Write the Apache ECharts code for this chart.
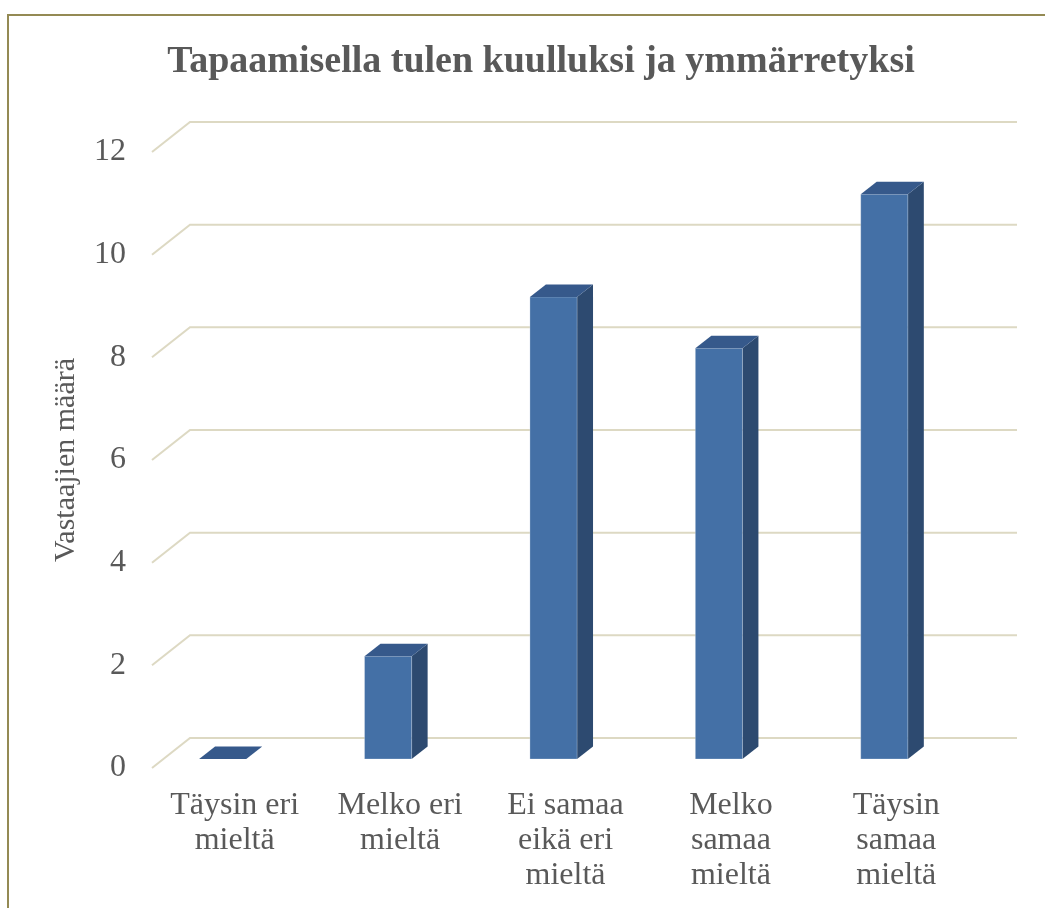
<!DOCTYPE html>
<html>
<head>
<meta charset="utf-8">
<script src="https://cdn.jsdelivr.net/npm/echarts@6/dist/echarts.min.js"></script>
<style>
  html, body { margin: 0; padding: 0; background: #fff; }
  #chart { width: 1045px; height: 908px; }
</style>
</head>
<body>
<div id="chart"></div>
<script>
// vastausvaihtoehdot ja vastaajien määrät
const categories = ['Täysin eri\nmieltä', 'Melko eri\nmieltä', 'Ei samaa\neikä eri\nmieltä', 'Melko\nsamaa\nmieltä', 'Täysin\nsamaa\nmieltä']
const counts = [0, 2, 9, 8, 11]
const yTicks = [0, 2, 4, 6, 8, 10, 12]

const titleText = 'Tapaamisella tulen kuulluksi ja ymmärretyksi'
const yName = 'Vastaajien määrä'

// "3D" syvyys pikseleinä
const DX = 38, DY = -30
const T0 = 0.3, T1 = 0.72
const FONT = 'Liberation Serif'
const TEXT_COLOR = '#595959'

const chart = echarts.init(document.getElementById('chart'))

function renderGridLine(params, api) {
  const cs = params.coordSys
  const p = api.coord([0, api.value(1)])
  const left = cs.x, right = cs.x + cs.width
  return {
    type: 'polyline',
    shape: { points: [[left, p[1]], [left + DX, p[1] + DY], [right + DX, p[1] + DY]] },
    style: { stroke: '#ddd9c3', lineWidth: 2, fill: null }
  }
}

function renderBar(params, api) {
  const i = api.value(0)
  const top = api.coord([i, api.value(1)])
  const base = api.coord([i, 0])
  const bw = api.size([1, 0])[0] * 0.285
  const cx = base[0] - 12
  const l = cx - bw / 2, r = cx + bw / 2
  const by = base[1] + T0 * DY
  const ty = top[1] + T0 * DY
  const sx = (T1 - T0) * DX, sy = (T1 - T0) * DY
  return {
    type: 'group',
    children: [
      {
        type: 'polygon',
        shape: { points: [[r, ty], [r + sx, ty + sy], [r + sx, by + sy], [r, by]] },
        style: { fill: '#2d4a70' }
      },
      {
        type: 'polygon',
        shape: { points: [[l, by], [l, ty], [r, ty], [r, by]] },
        style: { fill: '#4470a6', stroke: 'rgba(255,255,255,0.25)', lineWidth: 1 }
      },
      {
        type: 'polygon',
        shape: { points: [[l, ty], [l + sx, ty + sy], [r + sx, ty + sy], [r, ty]] },
        style: { fill: '#36598b' }
      }
    ]
  }
}

const option = {
  backgroundColor: '#fff',
  animation: false,
  title: {
    text: titleText,
    left: 536,
    textAlign: 'center',
    top: 38,
    textStyle: { fontFamily: FONT, fontSize: 38, fontWeight: 'bold', color: TEXT_COLOR }
  },
  graphic: [
    {
      type: 'polyline',
      shape: { points: [[8, 908], [8, 15], [1045, 15]] },
      style: { stroke: '#948a54', lineWidth: 2, fill: null }
    }
  ],
  grid: { left: 152, right: 66, top: 152, bottom: 140 },
  xAxis: {
    type: 'category',
    data: categories,
    axisLine: { show: false },
    axisTick: { show: false },
    axisLabel: {
      fontFamily: FONT, fontSize: 32, lineHeight: 35, color: TEXT_COLOR,
      margin: 20, interval: 0
    }
  },
  yAxis: {
    type: 'value',
    min: 0, max: 12, interval: 2,
    name: yName,
    nameLocation: 'middle',
    nameGap: 71,
    nameTextStyle: { fontFamily: FONT, fontSize: 30, color: TEXT_COLOR },
    axisLine: { show: false },
    axisTick: { show: false },
    splitLine: { show: false },
    axisLabel: { fontFamily: FONT, fontSize: 32, color: TEXT_COLOR, margin: 26 }
  },
  series: [
    {
      type: 'custom',
      z: 1,
      renderItem: renderGridLine,
      data: yTicks.map(v => [0, v]),
      silent: true
    },
    {
      type: 'custom',
      z: 2,
      renderItem: renderBar,
      data: counts.map((v, i) => [i, v])
    }
  ]
}

chart.setOption(option)
</script>
</body>
</html>
